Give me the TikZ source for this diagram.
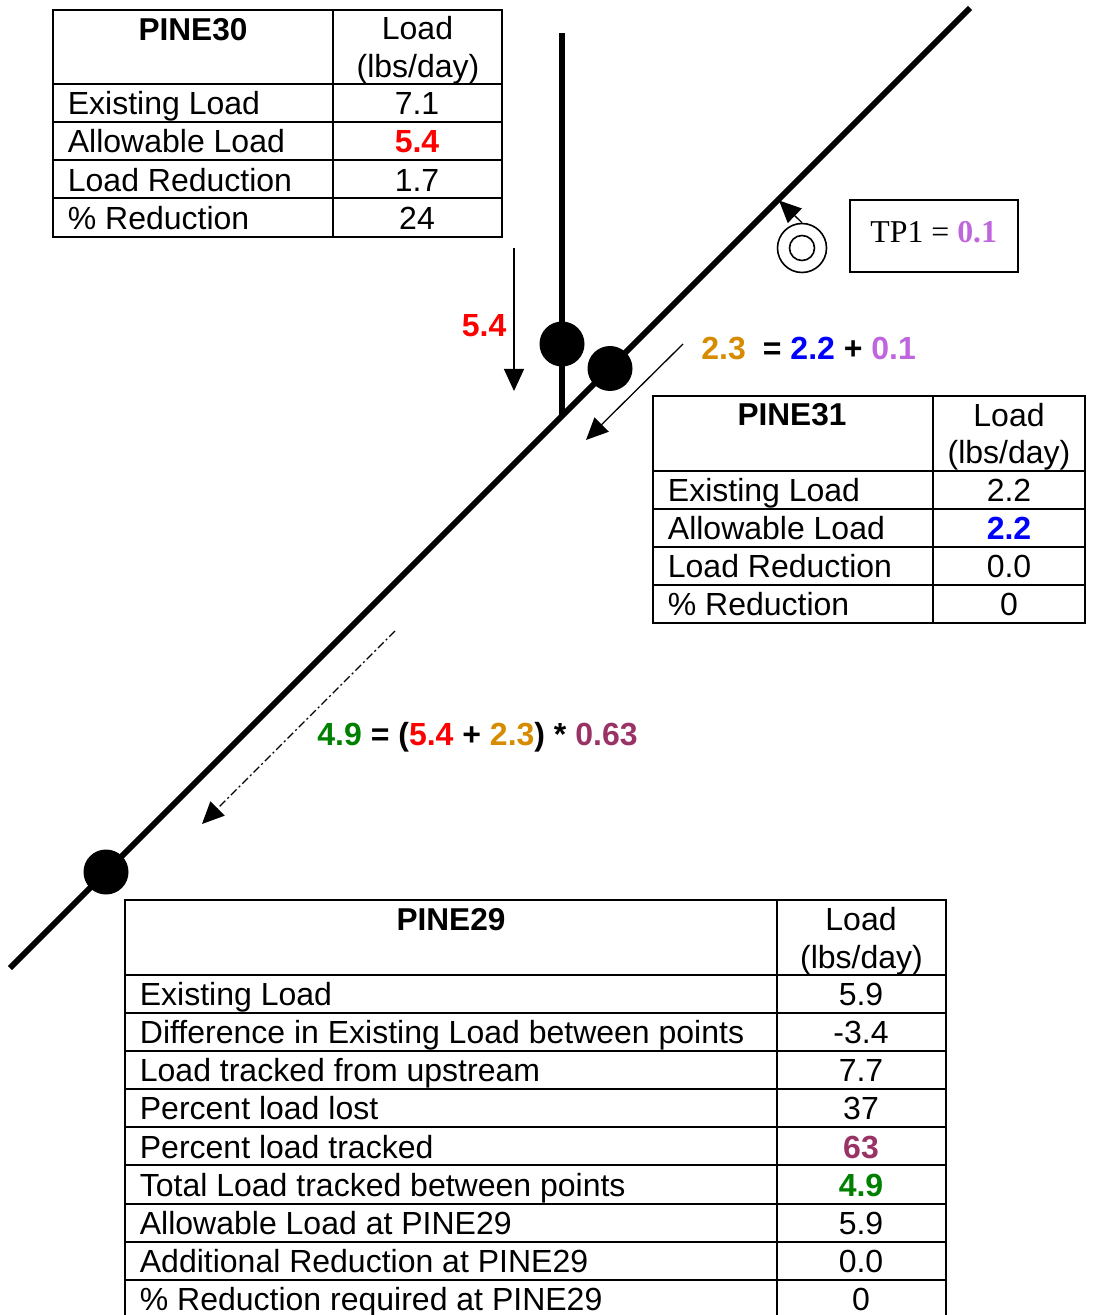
\documentclass[tikz,border=0pt]{standalone}
\usepackage{fontspec}
\setmainfont{Liberation Sans}
\newfontfamily\tmsfont{Liberation Serif}
\usetikzlibrary{arrows.meta}
\definecolor{cred}{HTML}{FF0000}
\definecolor{cblue}{HTML}{0000FF}
\definecolor{cgold}{HTML}{D68B00}
\definecolor{cviolet}{HTML}{BF66DE}
\definecolor{cgreen}{HTML}{008000}
\definecolor{cplum}{HTML}{993366}
\tikzset{
  x=0.5pt,y=-0.5pt,
  grid/.style={draw=black,line width=0.75pt},
  stream/.style={line width=2.9pt,line cap=butt},
  station/.style={circle,fill=black,inner sep=0pt,minimum size=22.5pt},
  txt/.style={inner sep=0pt,anchor=base,font=\fontsize{16}{19}\selectfont},
  lft/.style={txt,anchor=base west},
  hd/.style={txt,font=\fontsize{16}{19}\selectfont\bfseries},
  tblhd/.style={txt,font=\fontsize{15.8}{19}\selectfont\bfseries},
  flow/.style={line width=0.65pt,-{Triangle[length=11pt,width=10pt]}},
  ring/.style={circle,draw=black,line width=0.8pt,inner sep=0pt},
}
\newcommand{\bnum}[2]{\textcolor{#1}{\textbf{#2}}}
\begin{document}
\begin{tikzpicture}
\useasboundingbox (0,0) rectangle (1094,1315);
% stream lines
\coordinate (mainT) at (970,8);
\coordinate (mainB) at (10,968);
\coordinate (tribT) at (562,33);
\coordinate (tribB) at (562,415);
\draw[stream] (mainT) -- (mainB);
\draw[stream] (tribT) -- (tribB);
\node[station] (s30) at (562,344) {};
\node[station] (s31) at (610,368.5) {};
\node[station] (s29) at (106,872) {};
% table PINE30
\draw[grid] (53,10) rectangle (502,237);
\draw[grid] (333,10) -- (333,237);
\foreach \yy in {84,122,160,198} \draw[grid] (53,\yy) -- (502,\yy);
\node[tblhd] (a0) at (193,41) {PINE30};
\node[txt] (a1) at (417.5,40) {Load};
\node[txt] (a2) at (418,77.5) {(lbs/day)};
\node[lft] (a3) at (67.5,115) {Existing Load};
\node[lft] (a4) at (67.5,153) {Allowable Load};
\node[lft] (a5) at (67.5,192) {Load Reduction};
\node[lft] (a6) at (67.5,230) {\% Reduction};
\node[txt] (a7) at (417,115) {7.1};
\node[hd,text=cred] (a8) at (417,153) {5.4};
\node[txt] (a9) at (417,192) {1.7};
\node[txt] (a10) at (417,230) {24};
% table PINE31
\draw[grid] (653,396) rectangle (1085,623);
\draw[grid] (933,396) -- (933,623);
\foreach \yy in {471,509,547,585} \draw[grid] (653,\yy) -- (1085,\yy);
\node[tblhd] (b0) at (792,426) {PINE31};
\node[txt] (b1) at (1009,426.5) {Load};
\node[txt] (b2) at (1009,463.5) {(lbs/day)};
\node[lft] (b3) at (667.5,501) {Existing Load};
\node[lft] (b4) at (667.5,539) {Allowable Load};
\node[lft] (b5) at (667.5,577) {Load Reduction};
\node[lft] (b6) at (667.5,615) {\% Reduction};
\node[txt] (b7) at (1009,501) {2.2};
\node[hd,text=cblue] (b8) at (1009,539) {2.2};
\node[txt] (b9) at (1009,577) {0.0};
\node[txt] (b10) at (1009,615) {0};
% table PINE29
\draw[grid] (125,1315) -- (125,900) -- (946,900) -- (946,1315);
\draw[grid] (777,900) -- (777,1315);
\foreach \yy in {975,1013,1051,1089,1127,1165,1204,1242,1280} \draw[grid] (125,\yy) -- (946,\yy);
\node[tblhd] (c0) at (451,930) {PINE29};
\node[txt] (c1) at (861,930) {Load};
\node[txt] (c2) at (861.5,968) {(lbs/day)};
\node[lft] (c3) at (139.5,1005) {Existing Load};
\node[lft] (c4) at (139.5,1043) {Difference in Existing Load between points};
\node[lft] (c5) at (139.5,1081) {Load tracked from upstream};
\node[lft] (c6) at (139.5,1119) {Percent load lost};
\node[lft] (c7) at (139.5,1158) {Percent load tracked};
\node[lft] (c8) at (139.5,1196) {Total Load tracked between points};
\node[lft] (c9) at (139.5,1234) {Allowable Load at PINE29};
\node[lft] (c10) at (139.5,1272) {Additional Reduction at PINE29};
\node[lft] (c11) at (139.5,1310) {\% Reduction required at PINE29};
\node[txt] (c12) at (861,1005) {5.9};
\node[txt] (c13) at (861,1043) {-3.4};
\node[txt] (c14) at (861,1081) {7.7};
\node[txt] (c15) at (861,1119) {37};
\node[hd,text=cplum] (c16) at (861,1158) {63};
\node[hd,text=cgreen] (c17) at (861,1196) {4.9};
\node[txt] (c18) at (861,1234) {5.9};
\node[txt] (c19) at (861,1272) {0.0};
\node[txt] (c20) at (861,1310) {0};
% TP1
\node[draw=black,line width=0.6pt,minimum width=84pt,minimum height=36pt,inner sep=0pt] (tpbox) at (934,236) {};
\node[lft,font=\fontsize{15.9}{19}\selectfont\tmsfont] (tp) at (870,243) {TP1 = \bnum{cviolet}{0.1}};
\node[ring,minimum size=24.5pt] (wwtpO) at (802,248) {};
\node[ring,minimum size=12.5pt] (wwtpI) at (802,248) {};
\coordinate (tpTip) at (779,200.5);
\draw[flow] (wwtpO.north) -- (tpTip);
% flow arrows
\coordinate (fa1) at (514,248);
\coordinate (fa2) at (514,391);
\draw[flow] (fa1) -- (fa2);
\coordinate (fb1) at (683,344);
\coordinate (fb2) at (586,440);
\draw[flow] (fb1) -- (fb2);
\coordinate (fc1) at (395,631);
\coordinate (fc2) at (202,824);
\draw[flow,dash pattern=on 4pt off 1.5pt on 1pt off 1.5pt] (fc1) -- (fc2);
% equations
\node[hd,anchor=base west,text=cred] (l54) at (461.5,336.5) {5.4};
\node[hd,anchor=base west] (eq1) at (701,360) {\textcolor{cgold}{2.3}\hspace{8.5pt}= \textcolor{cblue}{2.2} + \textcolor{cviolet}{0.1}};
\node[hd,anchor=base west] (eq2) at (317,745) {\textcolor{cgreen}{4.9} = (\textcolor{cred}{5.4} + \textcolor{cgold}{2.3}) * \textcolor{cplum}{0.63}};
\end{tikzpicture}
\end{document}
